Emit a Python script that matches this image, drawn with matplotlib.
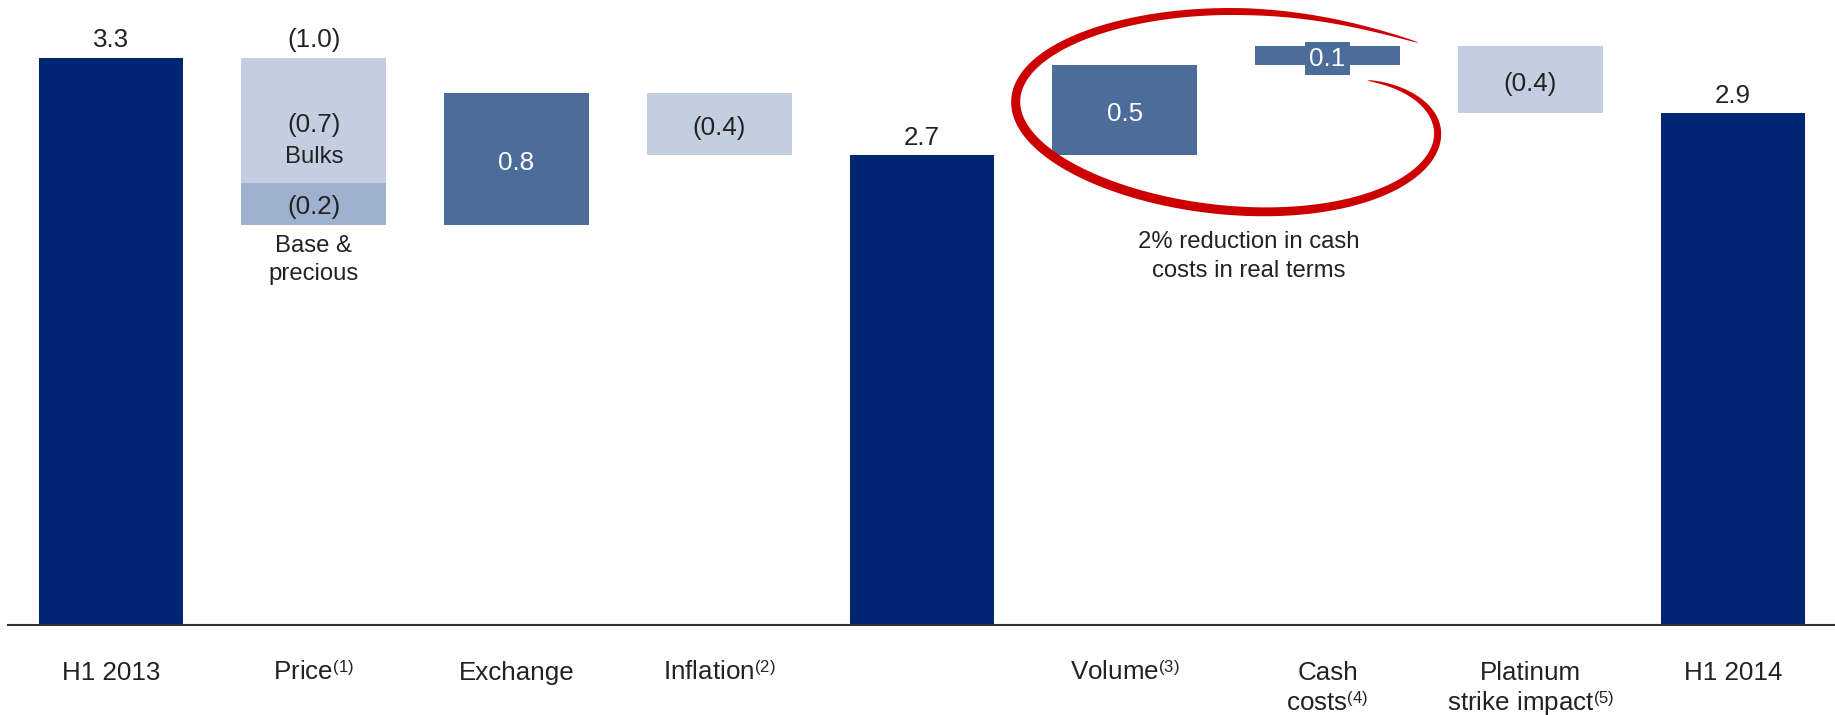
import numpy as np
import matplotlib
matplotlib.use("Agg")
import matplotlib.pyplot as plt
from matplotlib.patches import Polygon
from matplotlib.transforms import IdentityTransform

plt.rcParams['font.family'] = ['Liberation Sans', 'DejaVu Sans']
plt.rcParams['mathtext.fontset'] = 'custom'
plt.rcParams['mathtext.rm'] = 'Liberation Sans'
plt.rcParams['mathtext.it'] = 'Liberation Sans:italic'
plt.rcParams['mathtext.bf'] = 'Liberation Sans:bold'

# slightly smaller, lower footnote superscripts
try:
    import matplotlib._mathtext as _mt
    _mt.SHRINK_FACTOR = 0.64
    _mt.FontConstantsBase.sup1 = 0.55
except Exception:
    pass

# ---- EBIT bridge, H1 2013 to H1 2014 (US$ bn) ----
categories = ["H1 2013", "Price$^{\\mathrm{(1)}}$", "Exchange", "Inflation$^{\\mathrm{(2)}}$", "",
              "Volume$^{\\mathrm{(3)}}$", "Cash\ncosts$^{\\mathrm{(4)}}$",
              "Platinum\nstrike impact$^{\\mathrm{(5)}}$", "H1 2014"]
start_value = 3.26
price_bulks = -0.72
price_base = -0.24
exchange = 0.76
inflation = -0.36
volume = 0.52
cash_costs = 0.11
platinum_strike = -0.39

price_total = price_bulks + price_base
subtotal = start_value + price_total + exchange + inflation
end_value = subtotal + volume + cash_costs + platinum_strike

NAVY = "#002673"
MID = "#4C6C99"
LIGHT = "#C3CEE0"
BASE = "#9EB1CF"
RED = "#CC0000"
TXT = "#222222"

NUM_FS = 18.7
DESC_FS = 17.2
PX = 0.72  # points per pixel at 100 dpi

W, H = 1835, 715
fig = plt.figure(figsize=(W / 100, H / 100), dpi=100)
ax = fig.add_axes([8 / W, 90 / H, 1 - 8 / W, 625 / H])
ax.set_xlim(-0.508, 8.503)
ax.set_ylim(0, 625 / 174)
for side in ("top", "left", "right"):
    ax.spines[side].set_visible(False)
ax.spines["bottom"].set_color("#333333")
ax.spines["bottom"].set_linewidth(1.5)
ax.spines["bottom"].set_zorder(4)
ax.set_xticks([])
ax.set_yticks([])

BW = 0.715


def fmt(v):
    s = f"{abs(v):.1f}"
    return f"({s})" if v < 0 else s


def put(x, y, text, dy_px, fs=NUM_FS, color=TXT):
    ax.annotate(text, (x, y), xytext=(0, dy_px * PX), textcoords="offset points",
                ha="center", va="baseline", fontsize=fs, color=color, zorder=6)


# totals
for xi, val in ((0, start_value), (4, subtotal), (8, end_value)):
    ax.bar(xi, val, width=BW, color=NAVY, zorder=2)
    put(xi, val, fmt(val), 10.5)

# price: split into bulks and base & precious
ax.bar(1, -price_bulks, bottom=start_value + price_bulks, width=BW, color=LIGHT, zorder=2)
ax.bar(1, -price_base, bottom=start_value + price_total, width=BW, color=BASE, zorder=2)
put(1, start_value, fmt(price_total), 10.5)
put(1, start_value + price_bulks, fmt(price_bulks), 51.3)
put(1, start_value + price_bulks, "Bulks", 20.3, fs=DESC_FS)
put(1, start_value + price_bulks + price_base / 2, fmt(price_base), -10.5)
put(1, start_value + price_total, "Base &", -27, fs=DESC_FS)
put(1, start_value + price_total, "precious", -55, fs=DESC_FS)

# remaining movements
level = start_value + price_total
moves = [(2, exchange), (3, inflation), (5, volume), (6, cash_costs), (7, platinum_strike)]
for xi, dv in moves:
    if xi == 5:
        level = subtotal
    lo = min(level, level + dv)
    color = MID if dv > 0 else LIGHT
    ax.bar(xi, abs(dv), bottom=lo, width=BW, color=color, zorder=2)
    mid = lo + abs(dv) / 2
    if xi == 6:
        ax.annotate(fmt(dv), (xi, mid), xytext=(0, -10.5 * PX), textcoords="offset points",
                    ha="center", va="baseline", fontsize=NUM_FS, color="white", zorder=6,
                    bbox=dict(boxstyle="square,pad=0.18", fc=MID, ec="none"))
    else:
        put(xi, mid, fmt(dv), -11, color="white" if dv > 0 else TXT)
    level += dv

# category labels
for xi, lab in enumerate(categories):
    for li, line in enumerate(lab.split("\n")):
        put(xi, 0, line, -55 - 31 * li)

# note on cash costs
put(5.61, subtotal, "2% reduction in cash", -93, fs=DESC_FS)
put(5.61, subtotal, "costs in real terms", -122, fs=DESC_FS)

# hand-drawn red loop around volume and cash costs
cx_d, cy_d = ax.transData.transform((5.53, 2.95))
t = np.radians(np.linspace(-30, 319, 800))
t0, t1 = t[0], t[-1]
r = 1 - 0.28 * np.exp(-(t - t0) / np.radians(20)) + 0.14 * np.exp(-(t1 - t) / np.radians(20))
a, b, k, s = 216.5, 99.0, 0.06, 0.045
dx = a * r * np.cos(t)
dy_img = b * r * np.sin(t) * (1 + k * np.cos(t)) + s * dx
X = cx_d + dx
Y = cy_d - dy_img
taper = np.clip(np.minimum((t - t0) / np.radians(30), (t1 - t) / np.radians(45)), 0, 1) ** 0.5
w = (8.0 + 1.5 * np.cos(t - np.radians(135))) * taper
gx, gy = np.gradient(X), np.gradient(Y)
nrm = np.hypot(gx, gy)
nx, ny = -gy / nrm, gx / nrm
left = np.column_stack([X + nx * w / 2, Y + ny * w / 2])
right = np.column_stack([X - nx * w / 2, Y - ny * w / 2])
loop = Polygon(np.vstack([left, right[::-1]]), closed=True, facecolor=RED, edgecolor="none",
               transform=IdentityTransform(), clip_on=False, zorder=5)
ax.add_patch(loop)

fig.savefig("out.png", dpi=100)
